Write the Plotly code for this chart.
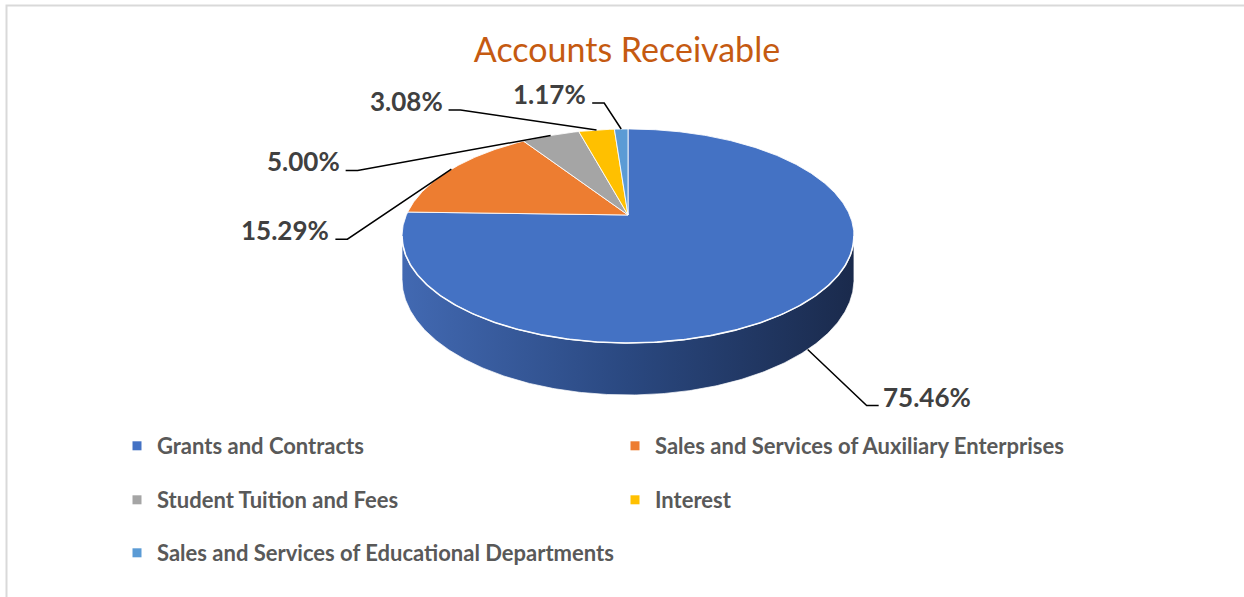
import numpy as np
import plotly.graph_objects as go

# ---------------- data ----------------
categories = [
    "Grants and Contracts",
    "Sales and Services of Auxiliary Enterprises",
    "Student Tuition and Fees",
    "Interest",
    "Sales and Services of Educational Departments",
]
shares = [75.46, 15.29, 5.00, 3.08, 1.17]
slice_colors = ["#4472C4", "#ED7D31", "#A5A5A5", "#FFC000", "#5B9BD5"]
chart_title = "Accounts Receivable"

# ---------------- layout / style constants (not data) ----------------
W, H = 1244, 597
CX, CY = 628.0, 215.0          # pie centre on screen
B, A = 221.6, 102.9            # horizontal / vertical radii of top face
K = -0.196                     # perspective factor
D = 41.8                       # thickness of the pie
# elbow offsets (px) of the leader lines from the slice anchor, and tail length
label_offsets = [(59, 56), (-104, 70), (-193, 35), (-136, -20), (-17, -26)]
tail_len = 12
legend_rows = [0, 0, 1, 1, 2]


def proj(frac, drop=0.0):
    """Project a point on the pie rim (fraction of turn, clockwise from back)."""
    t = 2 * np.pi * np.asarray(frac)
    u = np.sin(t)
    v = -np.cos(t)
    den = 1 + K * v
    return CX + B * u / den, CY + (A * v + D * drop) / den


total = float(sum(shares))
fr = np.array(shares) / total
starts = np.concatenate([[0.0], np.cumsum(fr)[:-1]])
ends = starts + fr

fig = go.Figure()

# ---- side (visible front wall) ----
t_sil = np.arccos(K) / (2 * np.pi)   # silhouette where v = -K
a0, a1 = t_sil, 1 - t_sil
arc = np.linspace(a0, a1, 300)
xt, yt = proj(arc, 0.0)
xb, yb = proj(arc[::-1], 1.0)
fig.add_trace(go.Scatter(
    x=np.concatenate([xt, xb, xt[:1]]), y=np.concatenate([yt, yb, yt[:1]]),
    mode="lines", fill="toself",
    line=dict(color="rgba(255,255,255,0.7)", width=1),
    fillgradient=dict(type="horizontal",
                      colorscale=[[0, "#4269B2"], [0.5, "#2A4880"], [1, "#1A2A4C"]]),
    hoverinfo="skip", showlegend=False))

# ---- top faces of slices ----
for i, (s, e) in enumerate(zip(starts, ends)):
    n = max(4, int((e - s) * 720))
    tt = np.linspace(s, e, n)
    x, y = proj(tt, 0.0)
    fig.add_trace(go.Scatter(
        x=np.concatenate([[CX], x, [CX]]), y=np.concatenate([[CY], y, [CY]]),
        mode="lines", fill="toself", fillcolor=slice_colors[i],
        line=dict(color="rgba(255,255,255,0.85)", width=1),
        name=categories[i], hoverinfo="name", showlegend=False))

# highlight edge between top face and side
fig.add_trace(go.Scatter(x=xt, y=yt, mode="lines",
                         line=dict(color="rgba(255,255,255,0.9)", width=1.6),
                         hoverinfo="skip", showlegend=False))

# ---- leader lines + labels ----
annotations = []
for i, (s, e) in enumerate(zip(starts, ends)):
    mid = (s + e) / 2
    v = -np.cos(2 * np.pi * mid)
    ax_, ay_ = proj(mid, 1.0 if v > 0 else 0.0)
    dx, dy = label_offsets[i]
    ex, ey = ax_ + dx, ay_ + dy
    side = 1 if dx > 0 else -1
    tx = ex + side * tail_len
    fig.add_trace(go.Scatter(x=[ax_, ex, tx], y=[ay_, ey, ey], mode="lines",
                             line=dict(color="#000000", width=1.5),
                             hoverinfo="skip", showlegend=False))
    annotations.append(dict(
        x=tx, y=ey, xref="x", yref="y", showarrow=False,
        text=f"{shares[i]:.2f}%",
        xanchor="left" if side > 0 else "right", yanchor="middle",
        xshift=2 if side > 0 else -4, yshift=9,
        font=dict(family="Lato", size=26, color="#404040", weight="bold")))

# ---- legend entries ----
legend_names = ["legend", "legend2", "legend3"]
for i, cat in enumerate(categories):
    fig.add_trace(go.Scatter(
        x=[None], y=[None], mode="markers",
        marker=dict(symbol="square", size=9, color=slice_colors[i]),
        name=cat, legend=legend_names[legend_rows[i]], showlegend=True))

row_y = [446, 500, 553]
leg_common = dict(orientation="h", xanchor="left", yanchor="middle",
                  entrywidth=453, entrywidthmode="pixels",
                  bgcolor="rgba(0,0,0,0)", itemclick=False, itemdoubleclick=False,
                  font=dict(family="Lato", size=22, color="#595959", weight="bold"))
legends = {}
for k, name in enumerate(legend_names):
    d = dict(leg_common)
    d.update(x=117 / W, y=1 - row_y[k] / H)
    legends[name] = d

fig.update_layout(
    width=W, height=H,
    margin=dict(l=0, r=0, t=0, b=0),
    paper_bgcolor="white", plot_bgcolor="white",
    title=dict(text=chart_title, x=627 / W, xanchor="center",
               y=1 - 50 / H, yanchor="middle",
               font=dict(family="Lato", size=34, color="#C55A11")),
    xaxis=dict(range=[0, W], visible=False, fixedrange=True),
    yaxis=dict(range=[H, 0], visible=False, fixedrange=True),
    annotations=annotations,
    shapes=[dict(type="rect", xref="paper", yref="paper",
                 x0=6.5 / W, x1=1.01, y0=-0.01, y1=1 - 5.5 / H,
                 line=dict(color="#D9D9D9", width=2), layer="below")],
    **legends,
)

fig.write_html("out.html", config={"displayModeBar": False},
               post_script="document.body.style.margin='0px';")
